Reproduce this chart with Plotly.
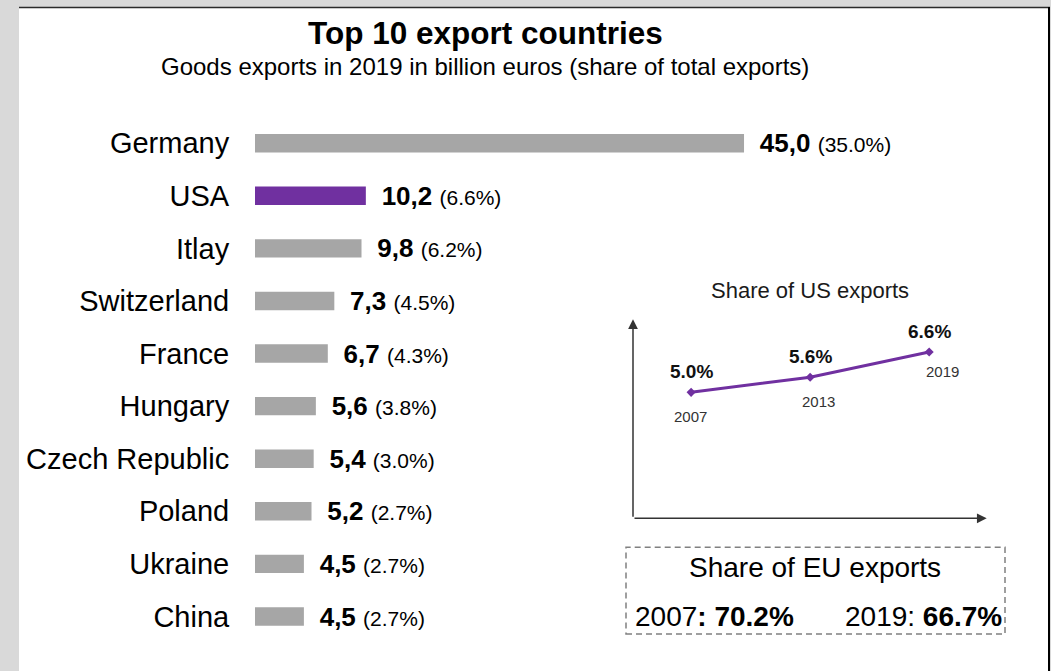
import plotly.graph_objects as go

W, H = 1051, 671

# ---- data ----
countries = ["Germany", "USA", "Itlay", "Switzerland", "France", "Hungary",
             "Czech Republic", "Poland", "Ukraine", "China"]
exports_bn = [45.0, 10.2, 9.8, 7.3, 6.7, 5.6, 5.4, 5.2, 4.5, 4.5]
share_pct = [35.0, 6.6, 6.2, 4.5, 4.3, 3.8, 3.0, 2.7, 2.7, 2.7]
highlight = "USA"

us_years = [2007, 2013, 2019]
us_share = [5.0, 5.6, 6.6]

eu_years = [2007, 2019]
eu_share = [70.2, 66.7]

FONT = "Liberation Sans, Arial, sans-serif"
GREY = "#a6a6a6"
PURPLE = "#7030a0"


def px_x(p):
    return p / W


def px_y(p):
    return 1 - p / H


bar_colors = [PURPLE if c == highlight else GREY for c in countries]
bar_text = [
    "<span style='font-size:23px'>\u00a0\u00a0</span><b>" + f"{v:.1f}".replace(".", ",") + "</b> "
    + f"<span style='font-size:21px'>({s:.1f}%)</span>"
    for v, s in zip(exports_bn, share_pct)
]

fig = go.Figure()

fig.add_trace(go.Bar(
    x=exports_bn, y=countries, orientation="h",
    marker=dict(color=bar_colors, line=dict(width=0)),
    width=0.35,
    text=bar_text, textposition="outside", constraintext="none",
    cliponaxis=False,
    textfont=dict(family=FONT, size=26, color="#000000"),
    hoverinfo="skip", xaxis="x", yaxis="y",
))

fig.add_trace(go.Scatter(
    x=us_years, y=us_share, mode="lines+markers",
    line=dict(color=PURPLE, width=3),
    marker=dict(symbol="diamond", size=7, color=PURPLE),
    xaxis="x2", yaxis="y2", hoverinfo="skip", cliponaxis=False,
))

# main axes
x_px_per_unit = 10.867
fig.update_layout(
    xaxis=dict(domain=[px_x(255), px_x(1040)], range=[0, (1040 - 255) / x_px_per_unit],
               visible=False, fixedrange=True),
    yaxis=dict(domain=[px_y(642.8), px_y(116.9)], type="category",
               categoryorder="array", categoryarray=countries,
               range=[9.5, -0.5], showgrid=False, zeroline=False, showline=False,
               ticks="outside", ticklen=19, tickcolor="rgba(0,0,0,0)",
               tickfont=dict(family=FONT, size=29, color="#000000")),
    xaxis2=dict(domain=[px_x(633), px_x(986.7)], range=[2004.07, 2021.9],
                visible=False, anchor="y2"),
    yaxis2=dict(domain=[px_y(518.3), px_y(319.3)], range=[0, 7.9],
                visible=False, anchor="x2"),
)

shapes = [
    # white panel
    dict(type="rect", xref="paper", yref="paper", x0=px_x(19), x1=px_x(1049),
         y0=px_y(H + 5), y1=px_y(7), fillcolor="#ffffff", line=dict(width=0), layer="below"),
    # top border
    dict(type="line", xref="paper", yref="paper", x0=px_x(19), x1=px_x(1050),
         y0=px_y(7.5), y1=px_y(7.5), line=dict(color="#2b2b2b", width=1.5)),
    # right border
    dict(type="line", xref="paper", yref="paper", x0=px_x(1049), x1=px_x(1049),
         y0=px_y(7), y1=px_y(H + 5), line=dict(color="#000000", width=2)),
    # EU dashed box
    dict(type="rect", xref="paper", yref="paper", x0=px_x(626), x1=px_x(1005),
         y0=px_y(634), y1=px_y(547.3), line=dict(color="#808080", width=1.5, dash="6px,4px"),
         fillcolor="rgba(0,0,0,0)"),
]

annotations = [
    dict(text="<b>Top 10 export countries</b>", xref="paper", yref="paper",
         x=px_x(485.4), y=px_y(32.5), xanchor="center", yanchor="middle", showarrow=False,
         font=dict(family=FONT, size=31.5, color="#000000")),
    dict(text="Goods exports in 2019 in billion euros (share of total exports)",
         xref="paper", yref="paper", x=px_x(485), y=px_y(66.5), xanchor="center",
         yanchor="middle", showarrow=False, font=dict(family=FONT, size=24, color="#000000")),
    dict(text="Share of US exports", xref="paper", yref="paper", x=px_x(809.5), y=px_y(290),
         xanchor="center", yanchor="middle", showarrow=False,
         font=dict(family=FONT, size=22, color="#1a1a1a")),
    # inset axes with arrows
    dict(x=2021.9, y=0, ax=2004.07, ay=0, xref="x2", yref="y2", axref="x2", ayref="y2",
         showarrow=True, arrowhead=2, arrowsize=1.3, arrowwidth=1.5, arrowcolor="#333333", text=""),
    dict(x=2004.07, y=7.9, ax=2004.07, ay=0, xref="x2", yref="y2", axref="x2", ayref="y2",
         showarrow=True, arrowhead=2, arrowsize=1.3, arrowwidth=1.5, arrowcolor="#333333", text=""),
    # EU box
    dict(text="Share of EU exports", xref="paper", yref="paper", x=px_x(815.3), y=px_y(567),
         xanchor="center", yanchor="middle", showarrow=False,
         font=dict(family=FONT, size=28, color="#000000")),
    dict(text=f"{eu_years[0]}<b>: {eu_share[0]:.1f}%</b>", xref="paper", yref="paper",
         x=px_x(633), y=px_y(616), xanchor="left", yanchor="middle", showarrow=False,
         font=dict(family=FONT, size=28, color="#000000")),
    dict(text=f"{eu_years[1]}: <b>{eu_share[1]:.1f}%</b>", xref="paper", yref="paper",
         x=px_x(1004), y=px_y(616), xanchor="right", yanchor="middle", showarrow=False,
         font=dict(family=FONT, size=28, color="#000000")),
]

# inset value + year labels
year_shift = [(-1, -24), (8, -24), (13, -19)]
for yr, v, (dx, dy) in zip(us_years, us_share, year_shift):
    annotations.append(dict(text=f"<b>{v:.1f}%</b>", x=yr, y=v, xref="x2", yref="y2",
                            xanchor="center", yanchor="middle", yshift=21, showarrow=False,
                            font=dict(family=FONT, size=19, color="#111111")))
    annotations.append(dict(text=str(yr), x=yr, y=v, xref="x2", yref="y2",
                            xanchor="center", yanchor="middle", xshift=dx, yshift=dy,
                            showarrow=False, font=dict(family=FONT, size=15, color="#333333")))

fig.update_layout(
    width=W, height=H, margin=dict(l=0, r=0, t=0, b=0, pad=0),
    paper_bgcolor="#d9d9d9", plot_bgcolor="rgba(0,0,0,0)",
    showlegend=False, shapes=shapes, annotations=annotations,
    font=dict(family=FONT, color="#000000"),
    bargap=0.65,
)

fig.write_html("out.html", config={"displayModeBar": False})
